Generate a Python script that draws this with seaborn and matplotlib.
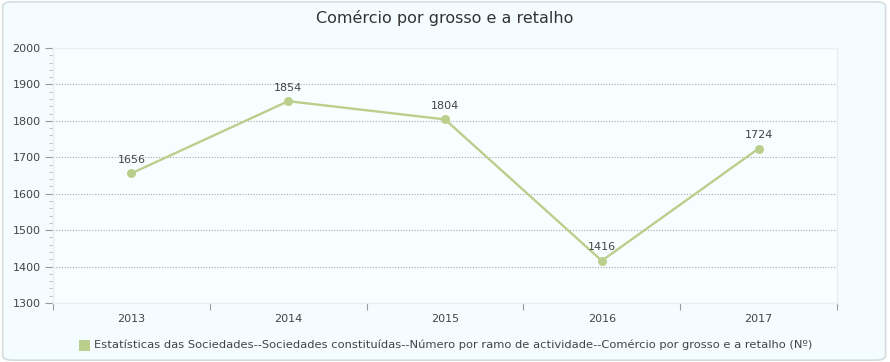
import numpy as np
import pandas as pd
import matplotlib
matplotlib.use("Agg")
import matplotlib.pyplot as plt
import seaborn as sns
from matplotlib.patches import FancyBboxPatch
from matplotlib.ticker import MultipleLocator

years = ["2013", "2014", "2015", "2016", "2017"]
values = [1656, 1854, 1804, 1416, 1724]
series_name = ("Estatísticas das Sociedades--Sociedades constituídas--Número por ramo "
               "de actividade--Comércio por grosso e a retalho (Nº)")
title = "Comércio por grosso e a retalho"

df = pd.DataFrame({"ano": years, "valor": values})
df["pos"] = np.arange(len(years))

sns.set_style("white")
plt.rcParams["font.family"] = ["DejaVu Sans"]

line_color = "#bacf8c"
text_color = "#444444"

fig = plt.figure(figsize=(8.9, 3.62), dpi=100)
fig.patch.set_facecolor("white")
bg = FancyBboxPatch((0.003, 0.005), 0.992, 0.99, boxstyle="round,pad=0,rounding_size=0.012",
                    transform=fig.transFigure, facecolor="#f4fcff", edgecolor="#d3dde0",
                    linewidth=1.2, zorder=-10)
fig.patches.append(bg)

ax = fig.add_axes([53 / 890, 59 / 362, 784 / 890, 255 / 362])
ax.set_facecolor("#f8fdff")

sns.lineplot(data=df, x="pos", y="valor", ax=ax, color=line_color, linewidth=1.7,
             marker="o", markersize=6.5, markeredgewidth=0, legend=False)

for x, v in zip(df["pos"], df["valor"]):
    ax.annotate(str(v), (x, v), xytext=(0, 6), textcoords="offset points",
                ha="center", va="bottom", fontsize=8, color=text_color)

ax.set_xlim(-0.5, len(years) - 0.5)
ax.set_ylim(1300, 2000)
ax.yaxis.set_major_locator(MultipleLocator(100))
ax.yaxis.set_minor_locator(MultipleLocator(20))
ax.set_xticks(np.arange(-0.5, len(years), 1.0))
ax.set_xticklabels([])
ax.set_xticks(df["pos"], minor=True)
ax.set_xticklabels(years, minor=True)
ax.tick_params(axis="x", which="major", bottom=True, length=5, color="#999999", direction="out")
ax.tick_params(axis="x", which="minor", bottom=True, length=0, pad=8, labelsize=8,
               labelcolor=text_color)
ax.tick_params(axis="y", which="major", left=True, length=6, color="#999999", direction="out",
               labelsize=8, labelcolor=text_color, pad=3)
ax.tick_params(axis="y", which="minor", left=True, length=3, color="#bbbbbb", direction="out")
ax.yaxis.grid(True, which="major", linestyle=(0, (1, 1.5)), color="#aaaaaa", linewidth=0.8)
ax.set_axisbelow(True)
for s in ax.spines.values():
    s.set_color("#eeeeee")
    s.set_linewidth(1)
ax.set_xlabel("")
ax.set_ylabel("")

fig.text(0.5, 1 - 18 / 362, title, ha="center", va="center", fontsize=11.5, color="#333333")

fig.patches.append(plt.Rectangle((79 / 890, 1 - 351 / 362), 11 / 890, 11 / 362,
                                 transform=fig.transFigure, facecolor=line_color,
                                 edgecolor="none"))
fig.text(94 / 890, 1 - 345 / 362, series_name, ha="left", va="center", fontsize=8.25,
         color=text_color)

fig.savefig("out.png", dpi=100, facecolor=fig.get_facecolor())
